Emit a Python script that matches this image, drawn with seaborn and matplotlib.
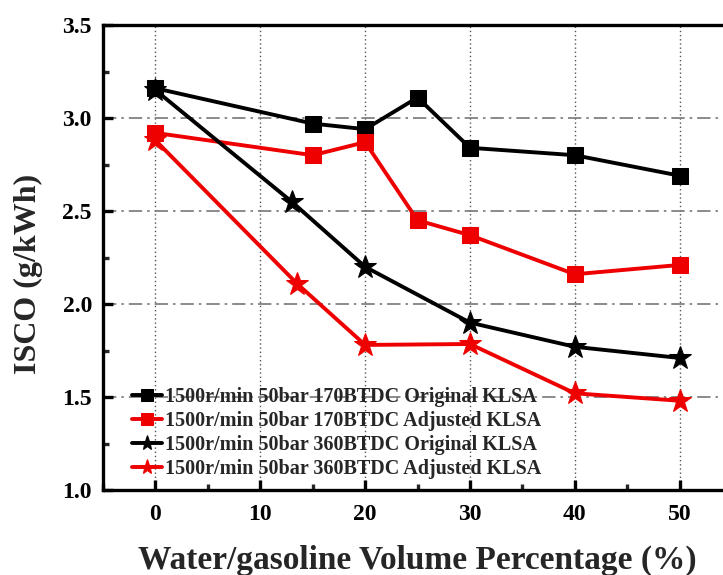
import matplotlib
matplotlib.use("Agg")
import matplotlib.pyplot as plt
import seaborn as sns
import pandas as pd
from matplotlib.ticker import MultipleLocator

sns.set_theme(style="white")
plt.rcParams["font.family"] = ["Liberation Serif", "DejaVu Serif"]
plt.rcParams["font.weight"] = "bold"

# Water/gasoline volume percentage (%) and ISCO (g/kWh)
x_170 = [0, 15, 20, 25, 30, 40, 50]
isco_170_original = [3.16, 2.97, 2.94, 3.11, 2.84, 2.80, 2.69]
isco_170_adjusted = [2.92, 2.80, 2.87, 2.45, 2.37, 2.16, 2.21]

x_360 = [0, 13, 20, 30, 40, 50]
isco_360_original = [3.15, 2.55, 2.20, 1.90, 1.77, 1.71]
x_360_adj = [0, 13.5, 20, 30, 40, 50]
isco_360_adjusted = [2.88, 2.11, 1.78, 1.785, 1.52, 1.48]

labels = [
    "1500r/min 50bar 170BTDC Original KLSA",
    "1500r/min 50bar 170BTDC Adjusted KLSA",
    "1500r/min 50bar 360BTDC Original KLSA",
    "1500r/min 50bar 360BTDC Adjusted KLSA",
]

series = [
    (x_170, isco_170_original, labels[0], "black", "s", 12),
    (x_170, isco_170_adjusted, labels[1], "#ee0000", "s", 12),
    (x_360, isco_360_original, labels[2], "black", "*", 17),
    (x_360_adj, isco_360_adjusted, labels[3], "#ee0000", "*", 17),
]

fig = plt.figure(figsize=(7.23, 5.75), dpi=100)
ax = fig.add_axes([0.1425, 0.1478, 0.87, 0.8087])

for xs, ys, lab, col, mk, ms in series:
    df = pd.DataFrame({"x": xs, "y": ys})
    sns.lineplot(data=df, x="x", y="y", ax=ax, color=col, marker=mk,
                 markersize=ms, markeredgecolor=col, linewidth=2.8,
                 label=lab, sort=False)

ax.set_xlim(-5, 55)
ax.set_ylim(1.0, 3.5)
ax.xaxis.set_major_locator(MultipleLocator(10))
ax.xaxis.set_minor_locator(MultipleLocator(5))
ax.yaxis.set_major_locator(MultipleLocator(0.5))
ax.yaxis.set_minor_locator(MultipleLocator(0.25))
ax.set_xticks([0, 10, 20, 30, 40, 50])

ax.grid(False)
for xv in [0, 10, 20, 30, 40, 50]:
    ax.axvline(xv, color="#555555", linestyle=(0, (1, 2)), linewidth=1.0, zorder=0)
for yv in [1.5, 2.0, 2.5, 3.0]:
    ax.axhline(yv, color="#777777", linestyle=(0, (8, 3, 1.5, 3)), linewidth=1.2, zorder=0)

for sp in ax.spines.values():
    sp.set_linewidth(2.4)
    sp.set_color("black")

ax.tick_params(axis="both", which="major", direction="in", length=7, width=2.4,
               labelsize=17, colors="black")
ax.tick_params(axis="x", which="major", pad=10)
ax.tick_params(axis="y", which="major", pad=8)
ax.tick_params(axis="both", which="minor", direction="in", length=4, width=2.4)
ax.tick_params(axis="both", which="both", left=True, bottom=True, top=False, right=False)
for t in ax.get_xticklabels() + ax.get_yticklabels():
    t.set_fontweight("bold")

ax.set_xlabel("Water/gasoline Volume Percentage (%)", fontsize=24,
              fontweight="bold", labelpad=14)
ax.set_ylabel("ISCO (g/kWh)", fontsize=23, fontweight="bold", labelpad=12)
ax.yaxis.set_label_coords(-0.095, 0.465)

leg = ax.legend(loc="lower left", bbox_to_anchor=(0.028, 0.0), frameon=False,
                fontsize=14.5, handlelength=1.5, handletextpad=0.15,
                labelspacing=0.2, borderaxespad=0.15)
for t in leg.get_texts():
    t.set_fontweight("bold")
for h in leg.legend_handles:
    h.set_markersize(8 if h.get_marker() == "s" else 11)

fig.savefig("out.png", dpi=100)
